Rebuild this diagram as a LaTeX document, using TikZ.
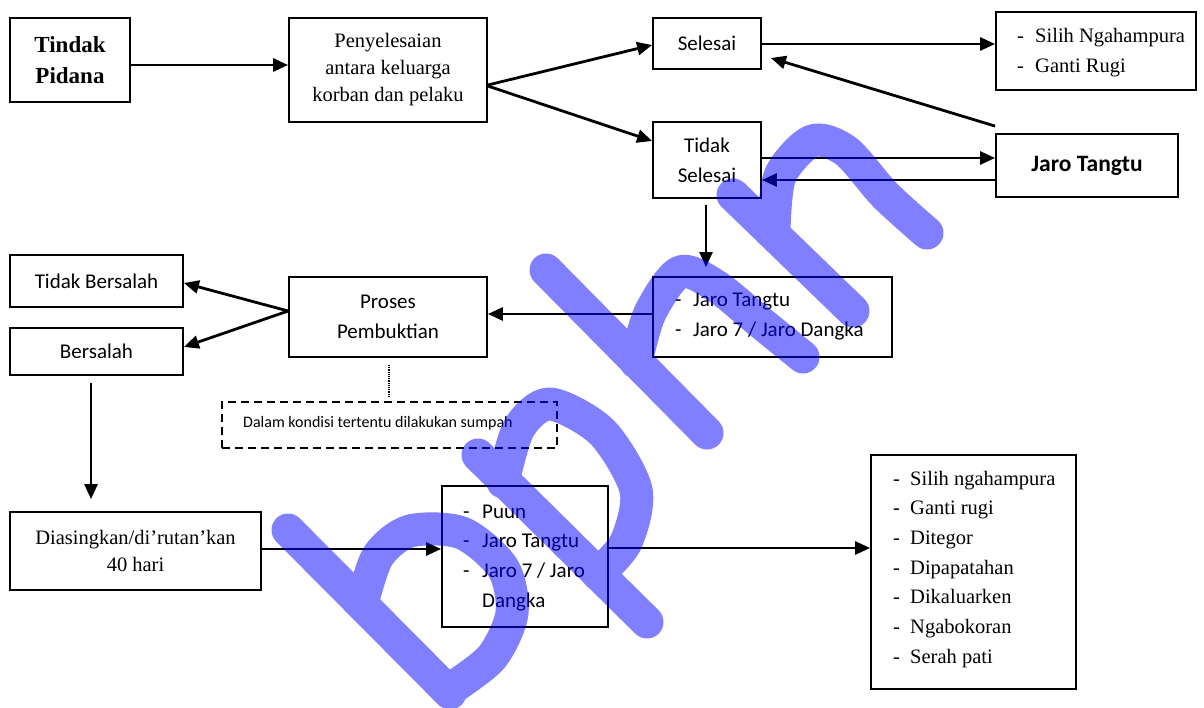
\documentclass[tikz,border=0pt]{standalone}
\usepackage{fontspec}
\setmainfont{Liberation Serif}
\setsansfont{Carlito}
\usetikzlibrary{arrows.meta,calc}
\begin{document}
\begin{tikzpicture}[x=1pt,y=-1pt,
  box/.style={draw, line width=1.8pt, inner sep=0pt, align=center},
  serif/.style={font=\fontsize{20.5}{27}\selectfont\rmfamily},
  sans/.style={font=\fontsize{21}{30}\selectfont\sffamily},
  arr/.style={line width=2.8pt, -{Triangle[length=15pt,width=13pt]}},
  item/.style={inner sep=0pt, anchor=base west},
  dashbox/.style={draw, line width=1.8pt, dash pattern=on 8pt off 5pt, inner sep=0pt},
  wm/.style={draw=blue, line width=33pt, line cap=round, line join=round},
]
\useasboundingbox (0,0) rectangle (1204,708);
\fill[white] (0,0) rectangle (1204,708);

% boxes
\node[box, font=\fontsize{23}{31}\selectfont\rmfamily\bfseries, minimum width=120pt, minimum height=84pt] (tp) at (70,60) {Tindak\\Pidana};
\node[box, serif, minimum width=198pt, minimum height=104pt] (pen) at (388,70) {Penyelesaian\\antara keluarga\\korban dan pelaku};
\node[box, sans, minimum width=108pt, minimum height=51pt] (sel) at (707,43.5) {Selesai};
\node[box, sans, minimum width=108pt, minimum height=76pt] (tsel) at (707,160) {Tidak\\Selesai};
\node[box, minimum width=200pt, minimum height=78pt] (silih) at (1096,51) {};
\node[box, font=\fontsize{23.5}{28}\selectfont\sffamily\bfseries, minimum width=182pt, minimum height=63pt] (jt) at (1087,165.5) {Jaro Tangtu};
\node[box, minimum width=239pt, minimum height=80pt] (jaro7) at (772.5,317) {};
\node[box, sans, minimum width=198pt, minimum height=80pt] (proses) at (388,317) {Proses\\Pembuktian};
\node[box, sans, minimum width=173pt, minimum height=52pt] (tb) at (96.5,281) {Tidak Bersalah};
\node[box, sans, minimum width=173pt, minimum height=47pt] (bs) at (96.5,351.5) {Bersalah};
\node[dashbox, minimum width=335pt, minimum height=46pt] (dk) at (389.5,425) {};
\node[box, serif, minimum width=251pt, minimum height=78pt] (dias) at (135.5,551) {Diasingkan/di’rutan’kan\\40 hari};
\node[box, minimum width=166pt, minimum height=141pt] (puun) at (525,556.5) {};
\node[box, minimum width=205pt, minimum height=234pt] (res) at (973.5,572) {};

% list texts
\node[item, serif] (s1) at (1017,43) {\makebox[18pt][l]{-}Silih Ngahampura};
\node[item, serif] (s2) at (1017,73) {\makebox[18pt][l]{-}Ganti Rugi};
\node[item, sans] (j1) at (675,307) {\makebox[18pt][l]{-}Jaro Tangtu};
\node[item, sans] (j2) at (675,337) {\makebox[18pt][l]{-}Jaro 7 / Jaro Dangka};
\node[item, font=\fontsize{16}{18}\selectfont\sffamily] (dkt) at (243,427) {Dalam kondisi tertentu dilakukan sumpah};
\node[item, sans] (p1) at (463,518) {\makebox[19pt][l]{-}Puun};
\node[item, sans] (p2) at (463,547) {\makebox[19pt][l]{-}Jaro Tangtu};
\node[item, sans] (p3) at (463,577) {\makebox[19pt][l]{-}Jaro 7 / Jaro};
\node[item, sans] (p4) at (463,607) {\makebox[19pt][l]{}Dangka};
\foreach \t [count=\i] in {Silih ngahampura, Ganti rugi, Ditegor, Dipapatahan, Dikaluarken, Ngabokoran, Serah pati}
  \node[item, serif] (r\i) at (893,{485+29.67*(\i-1)}) {\makebox[17pt][l]{-}\t};

% connectors
\draw[arr] (tp.east |- 0,65) -- (pen.west |- 0,65);
\draw[arr] (pen.east |- 0,85) -- (sel.west |- 0,45);
\draw[arr] (pen.east |- 0,86) -- (tsel.west |- 0,141);
\draw[arr] (sel.east |- 0,44) -- (silih.west |- 0,44);
\draw[arr] ([yshift=7pt]jt.north west) -- ([xshift=9pt]sel.east |- 0,58);
\draw[arr] (tsel.east |- 0,158) -- (jt.west |- 0,158);
\draw[arr] (jt.west |- 0,180) -- (tsel.east |- 0,180);
\draw[arr, line width=2.2pt] ([yshift=-6pt]tsel.south -| 706,0) -- ([yshift=9pt]jaro7.north -| 706,0);
\draw[arr] (jaro7.west |- 0,314) -- (proses.east |- 0,314);
\draw[arr] (proses.west |- 0,311) -- (tb.east |- 0,283);
\draw[arr] (proses.west |- 0,311) -- (bs.east |- 0,347);
\draw[densely dotted, line width=1.2pt] ([yshift=-7pt]proses.south -| 389,0) -- ([yshift=5pt]dk.north -| 389,0);
\draw[arr] ([yshift=-7pt]bs.south -| 91,0) -- ([yshift=12pt]dias.north -| 91,0);
\draw[arr] (dias.east |- 0,549) -- (puun.west |- 0,549);
\draw[arr] (puun.east |- 0,548) -- (res.west |- 0,548);

% watermark
\begin{scope}[transparency group, opacity=0.5]
\draw[wm] (288,530) -- (450,693);
\draw[wm] plot[smooth] coordinates {(362,604) (378,556) (410,531) (462,533) (503,568) (512,613) (492,657) (452,688)};
\draw[wm] (478,455) -- (647,622);
\draw[wm] plot[smooth] coordinates {(503,482) (519,428) (550,404) (602,432) (636,490) (626,542) (598,574)};
\draw[wm] (546,270) -- (707,433);
\draw[wm] plot[smooth] coordinates {(636,362) (650,313) (680,272) (716,286) (760,322) (803,357)};
\draw[wm] (733,195) -- (853,311);
\draw[wm] plot[smooth] coordinates {(774,232) (780,176) (812,141) (846,151) (885,195) (927,233)};
\end{scope}
\end{tikzpicture}
\end{document}
